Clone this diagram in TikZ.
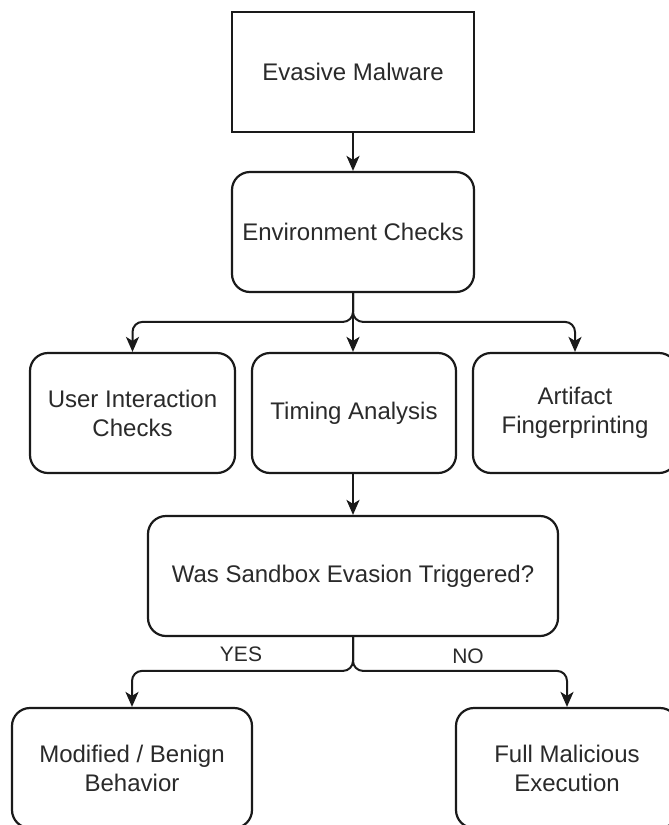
\documentclass[tikz,border=0pt]{standalone}
\usepackage{fontspec}
\setmainfont{Liberation Sans}
\usetikzlibrary{arrows.meta}
\definecolor{txt}{HTML}{2A2A2A}
\definecolor{ln}{HTML}{1A1A1A}
\begin{document}
\begin{tikzpicture}[x=1pt,y=-1pt,
  plainbox/.style={draw=ln, line width=2.2pt, minimum height=120pt, inner sep=0pt,
    align=center, text=txt, font=\fontsize{24}{29}\selectfont},
  rbox/.style={plainbox, rounded corners=18pt},
  conn/.style={draw=ln, line width=2pt, rounded corners=10pt,
    -{Stealth[length=15pt,width=13pt,inset=4pt]}},
  lbl/.style={text=txt, font=\fontsize{21}{25}\selectfont, inner sep=0pt}]
\useasboundingbox (0,0) rectangle (669,825);
\fill[white] (0,0) rectangle (669,825);

\node[plainbox, minimum width=242pt] (mal) at (353,72) {Evasive Malware};
\node[rbox, minimum width=242pt] (env) at (353,232) {Environment Checks};
\node[rbox, minimum width=205pt] (uic) at (132.5,413) {User Interaction\\Checks};
\node[rbox, minimum width=204pt] (tim) at (354,413) {Timing Analysis};
\node[rbox, minimum width=204pt] (art) at (575,413) {Artifact\\Fingerprinting};
\node[rbox, minimum width=410pt] (dec) at (353,576) {Was Sandbox Evasion Triggered?};
\node[rbox, minimum width=240pt] (mod) at (132,768) {Modified / Benign\\Behavior};
\node[rbox, minimum width=222pt] (full) at (567,768) {Full Malicious\\Execution};

\draw[conn] (mal.south) -- (env.north);
\draw[conn] (env.south) |- ([yshift=30pt]uic.north) -- (uic.north);
\draw[conn] (env.south) -- (env.south |- tim.north);
\draw[conn] (env.south) |- ([yshift=30pt]art.north) -- (art.north);
\draw[conn] (dec.north |- tim.south) -- (dec.north);
\draw[conn] (dec.south) |- ([yshift=36pt]mod.north) -- (mod.north);
\draw[conn] (dec.south) |- ([yshift=36pt]full.north) -- (full.north);

\node[lbl] (yes) at (241,654) {YES};
\node[lbl] (no) at (468,656) {NO};
\end{tikzpicture}
\end{document}
